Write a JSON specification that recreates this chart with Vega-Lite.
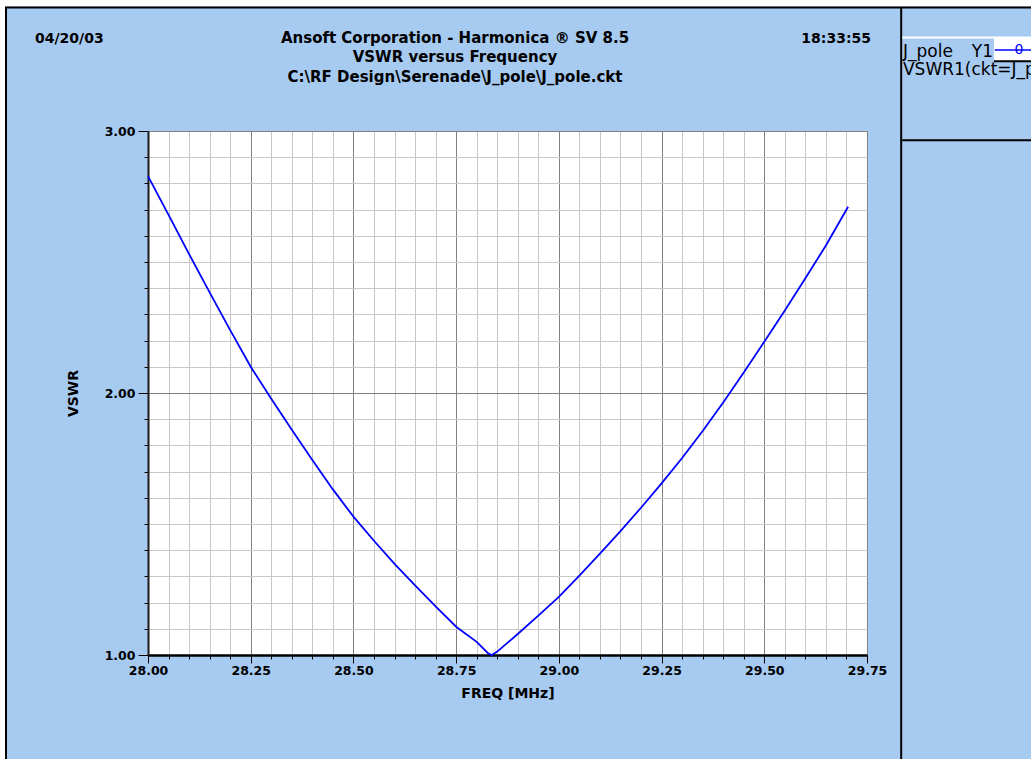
{
  "$schema": "https://vega.github.io/schema/vega-lite/v6.json",
  "autosize": {"type": "none"},
  "padding": {"left": 148, "top": 131, "right": 164, "bottom": 104},
  "width": 719,
  "height": 524,
  "background": "#A6CAF0",
  "config": {"view": {"fill": "white", "stroke": null}},
  "resolve": {"axis": {"x": "independent", "y": "independent"}},
  "layer": [
    {
      "data": {"values": [
        {"f": 28.000, "v": 2.828}, {"f": 28.050, "v": 2.680}, {"f": 28.100, "v": 2.530}, {"f": 28.150, "v": 2.384},
        {"f": 28.200, "v": 2.240}, {"f": 28.250, "v": 2.100}, {"f": 28.300, "v": 1.978}, {"f": 28.350, "v": 1.860},
        {"f": 28.400, "v": 1.744}, {"f": 28.450, "v": 1.632}, {"f": 28.500, "v": 1.528}, {"f": 28.550, "v": 1.436},
        {"f": 28.600, "v": 1.348}, {"f": 28.650, "v": 1.266}, {"f": 28.700, "v": 1.186}, {"f": 28.750, "v": 1.108},
        {"f": 28.800, "v": 1.050}, {"f": 28.828, "v": 1.006}, {"f": 28.837, "v": 1.000}, {"f": 28.850, "v": 1.013},
        {"f": 28.900, "v": 1.080}, {"f": 28.950, "v": 1.150}, {"f": 29.000, "v": 1.222}, {"f": 29.050, "v": 1.303},
        {"f": 29.100, "v": 1.387}, {"f": 29.150, "v": 1.473}, {"f": 29.200, "v": 1.562}, {"f": 29.250, "v": 1.655},
        {"f": 29.300, "v": 1.752}, {"f": 29.350, "v": 1.855}, {"f": 29.400, "v": 1.964}, {"f": 29.450, "v": 2.078},
        {"f": 29.500, "v": 2.196}, {"f": 29.550, "v": 2.315}, {"f": 29.600, "v": 2.438}, {"f": 29.650, "v": 2.563},
        {"f": 29.704, "v": 2.711}
      ]},
      "mark": {"type": "line", "color": "#0000FF", "strokeWidth": 1.8},
      "encoding": {
        "x": {
          "field": "f", "type": "quantitative",
          "scale": {"domain": [28, 29.75], "nice": false, "zero": false},
          "axis": {
            "orient": "bottom",
            "values": [28.05, 28.1, 28.15, 28.2, 28.3, 28.35, 28.4, 28.45, 28.55, 28.6, 28.65, 28.7, 28.8, 28.85, 28.9, 28.95, 29.05, 29.1, 29.15, 29.2, 29.3, 29.35, 29.4, 29.45, 29.55, 29.6, 29.65, 29.7],
            "grid": true, "gridColor": "#C8C8C8", "gridWidth": 1,
            "tickSize": 4, "tickColor": "black", "tickWidth": 1,
            "labels": false, "domain": false, "title": null
          }
        },
        "y": {
          "field": "v", "type": "quantitative",
          "scale": {"domain": [1, 3], "nice": false, "zero": false},
          "axis": {
            "orient": "left",
            "values": [1.1, 1.2, 1.3, 1.4, 1.5, 1.6, 1.7, 1.8, 1.9, 2.1, 2.2, 2.3, 2.4, 2.5, 2.6, 2.7, 2.8, 2.9],
            "grid": true, "gridColor": "#C8C8C8", "gridWidth": 1,
            "tickSize": 4, "tickColor": "black", "tickWidth": 1,
            "labels": false, "domain": false, "title": null
          }
        }
      }
    },
    {
      "data": {"values": [{}]},
      "mark": {"type": "point", "opacity": 0},
      "encoding": {
        "x": {
          "datum": 28, "type": "quantitative",
          "axis": {
            "orient": "bottom",
            "values": [28, 28.25, 28.5, 28.75, 29, 29.25, 29.5, 29.75],
            "format": ".2f",
            "grid": true, "gridColor": "#808080", "gridWidth": 1,
            "tickSize": 8, "tickColor": "black", "tickWidth": 1,
            "labelFont": "DejaVu Sans", "labelFontSize": 12.5, "labelFontWeight": "bold", "labelColor": "black",
            "labelPadding": 1, "labelOverlap": false, "labelFlush": false,
            "domainColor": "black", "domainWidth": 2.5,
            "title": "FREQ [MHz]", "titleFont": "DejaVu Sans", "titleFontSize": 14, "titleFontWeight": "bold",
            "titleColor": "black", "titleBaseline": "alphabetic", "titleY": 42
          }
        },
        "y": {
          "datum": 1, "type": "quantitative",
          "axis": {
            "orient": "left",
            "values": [1, 2, 3],
            "format": ".2f",
            "grid": true, "gridColor": "#808080", "gridWidth": 1,
            "tickSize": 10, "tickColor": "black", "tickWidth": 1,
            "labelFont": "DejaVu Sans", "labelFontSize": 12.5, "labelFontWeight": "bold", "labelColor": "black",
            "labelPadding": 3, "labelOverlap": false, "labelFlush": false,
            "domainColor": "#1a1a1a", "domainWidth": 2,
            "title": "VSWR", "titleFont": "DejaVu Sans", "titleFontSize": 14, "titleFontWeight": "bold",
            "titleColor": "black", "titleBaseline": "alphabetic", "titleX": -71
          }
        }
      }
    },
    {
      "data": {"values": [{}]},
      "mark": {"type": "rule", "color": "white", "strokeWidth": 6.5},
      "encoding": {"x": {"datum": 27.6, "type": "quantitative", "axis": null}, "x2": {"datum": 30.3}, "y": {"datum": 3.4876, "type": "quantitative", "axis": null}}
    },
    {
      "data": {"values": [{}]},
      "mark": {"type": "rule", "color": "white", "strokeWidth": 5},
      "encoding": {"x": {"datum": 27.6459, "type": "quantitative", "axis": null}, "y": {"datum": 3.4995, "type": "quantitative", "axis": null}, "y2": {"datum": 0.5}}
    },
    {
      "data": {"values": [{}]},
      "mark": {"type": "rule", "color": "black", "strokeWidth": 2},
      "encoding": {"x": {"datum": 27.652, "type": "quantitative", "axis": null}, "x2": {"datum": 30.3}, "y": {"datum": 3.4714, "type": "quantitative", "axis": null}}
    },
    {
      "data": {"values": [{}]},
      "mark": {"type": "rule", "color": "black", "strokeWidth": 2},
      "encoding": {"x": {"datum": 27.6544, "type": "quantitative", "axis": null}, "y": {"datum": 3.4733, "type": "quantitative", "axis": null}, "y2": {"datum": 0.5}}
    },
    {
      "data": {"values": [{}]},
      "mark": {"type": "rule", "color": "black", "strokeWidth": 2},
      "encoding": {"x": {"datum": 29.8332, "type": "quantitative", "axis": null}, "y": {"datum": 3.4733, "type": "quantitative", "axis": null}, "y2": {"datum": 0.5}}
    },
    {
      "data": {"values": [{}]},
      "mark": {"type": "rule", "color": "white", "strokeWidth": 2},
      "encoding": {"x": {"datum": 29.8357, "type": "quantitative", "axis": null}, "x2": {"datum": 30.3}, "y": {"datum": 3.3569, "type": "quantitative", "axis": null}}
    },
    {
      "data": {"values": [{}]},
      "mark": {"type": "rule", "color": "black", "strokeWidth": 2},
      "encoding": {"x": {"datum": 29.8357, "type": "quantitative", "axis": null}, "x2": {"datum": 30.3}, "y": {"datum": 2.9645, "type": "quantitative", "axis": null}}
    },
    {
      "data": {"values": [{}]},
      "mark": {"type": "rect", "color": "white"},
      "encoding": {"x": {"datum": 30.059, "type": "quantitative", "axis": null}, "x2": {"datum": 30.3}, "y": {"datum": 3.3588, "type": "quantitative", "axis": null}, "y2": {"datum": 3.2672}}
    },
    {
      "data": {"values": [{}]},
      "mark": {"type": "rule", "color": "black", "strokeWidth": 2},
      "encoding": {"x": {"datum": 30.059, "type": "quantitative", "axis": null}, "x2": {"datum": 30.3}, "y": {"datum": 3.2665, "type": "quantitative", "axis": null}}
    },
    {
      "data": {"values": [{}]},
      "mark": {"type": "rule", "color": "#0000FF", "strokeWidth": 1.5},
      "encoding": {"x": {"datum": 30.061, "type": "quantitative", "axis": null}, "x2": {"datum": 30.3}, "y": {"datum": 3.3092, "type": "quantitative", "axis": null}}
    },
    {
      "data": {"values": [{"t": "0"}]},
      "mark": {"type": "text", "align": "center", "baseline": "middle", "font": "DejaVu Sans", "fontSize": 14, "color": "#0000FF"},
      "encoding": {"x": {"datum": 30.12, "type": "quantitative", "axis": null}, "y": {"datum": 3.3073, "type": "quantitative", "axis": null}, "text": {"field": "t"}}
    },
    {
      "data": {"values": [{"t": "J_pole"}]},
      "mark": {"type": "text", "align": "left", "baseline": "alphabetic", "font": "DejaVu Sans", "fontSize": 17, "color": "black"},
      "encoding": {"x": {"datum": 29.8376, "type": "quantitative", "axis": null}, "y": {"datum": 3.2824, "type": "quantitative", "axis": null}, "text": {"field": "t"}}
    },
    {
      "data": {"values": [{"t": "Y1"}]},
      "mark": {"type": "text", "align": "right", "baseline": "alphabetic", "font": "DejaVu Sans", "fontSize": 17, "color": "black"},
      "encoding": {"x": {"datum": 30.0566, "type": "quantitative", "axis": null}, "y": {"datum": 3.2824, "type": "quantitative", "axis": null}, "text": {"field": "t"}}
    },
    {
      "data": {"values": [{"t": "VSWR1(ckt=J_pole)"}]},
      "mark": {"type": "text", "align": "left", "baseline": "alphabetic", "font": "DejaVu Sans", "fontSize": 17, "color": "black"},
      "encoding": {"x": {"datum": 29.8376, "type": "quantitative", "axis": null}, "y": {"datum": 3.2137, "type": "quantitative", "axis": null}, "text": {"field": "t"}}
    },
    {
      "data": {"values": [{"t": "04/20/03"}]},
      "mark": {"type": "text", "align": "left", "baseline": "alphabetic", "font": "DejaVu Sans", "fontSize": 14, "fontWeight": "bold", "color": "black"},
      "encoding": {"x": {"datum": 27.725, "type": "quantitative", "axis": null}, "y": {"datum": 3.3359, "type": "quantitative", "axis": null}, "text": {"field": "t"}}
    },
    {
      "data": {"values": [{"t": "18:33:55"}]},
      "mark": {"type": "text", "align": "right", "baseline": "alphabetic", "font": "DejaVu Sans", "fontSize": 14, "fontWeight": "bold", "color": "black"},
      "encoding": {"x": {"datum": 29.7597, "type": "quantitative", "axis": null}, "y": {"datum": 3.3359, "type": "quantitative", "axis": null}, "text": {"field": "t"}}
    },
    {
      "data": {"values": [{"t": ["Ansoft Corporation - Harmonica ® SV 8.5", "VSWR versus Frequency", "C:\\RF Design\\Serenade\\J_pole\\J_pole.ckt"]}]},
      "mark": {"type": "text", "align": "center", "baseline": "alphabetic", "font": "DejaVu Sans", "fontSize": 15, "fontWeight": "bold", "color": "black", "lineHeight": 19.5},
      "encoding": {"x": {"datum": 28.7472, "type": "quantitative", "axis": null}, "y": {"datum": 3.3359, "type": "quantitative", "axis": null}, "text": {"field": "t"}}
    }
  ]
}
